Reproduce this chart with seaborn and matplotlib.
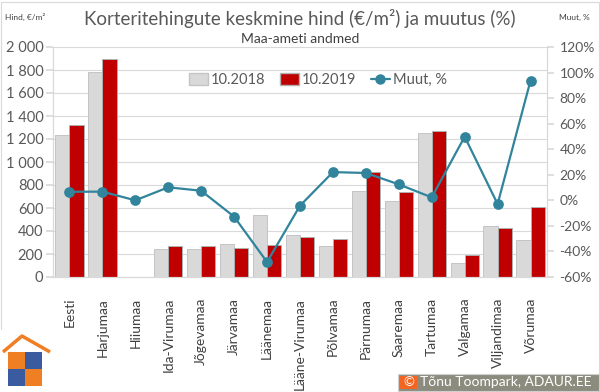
import matplotlib
matplotlib.use("Agg")
import matplotlib.pyplot as plt
import matplotlib.patches as mpatches
from matplotlib.lines import Line2D
import seaborn as sns
import pandas as pd
from matplotlib.ticker import FuncFormatter, MultipleLocator

categories = ["Eesti", "Harjumaa", "Hiiumaa", "Ida-Virumaa", "Jõgevamaa", "Järvamaa",
              "Läänemaa", "Lääne-Virumaa", "Põlvamaa", "Pärnumaa", "Saaremaa",
              "Tartumaa", "Valgamaa", "Viljandimaa", "Võrumaa"]
price_2018 = [1235, 1780, 0, 243, 243, 284, 539, 368, 270, 748, 661, 1252, 122, 443, 322]
price_2019 = [1324, 1898, 0, 267, 267, 249, 275, 350, 328, 909, 742, 1267, 189, 429, 611]
change_pct = [6.7, 6.8, 0.0, 10.2, 7.5, -12.8, -48.3, -4.2, 22.1, 21.4, 12.5, 2.3, 49.8, -2.9, 93.7]
series_names = ["10.2018", "10.2019"]
line_name = "Muut, %"

GRAY = "#D9D9D9"
RED = "#C00000"
TEAL = "#31849B"
TXT = "#595959"
GRID = "#D9D9D9"

sns.set_theme(style="white")
plt.rcParams["font.family"] = ["Lato", "DejaVu Sans"]

long = pd.DataFrame({
    "cat": categories * 2,
    "val": price_2018 + price_2019,
    "year": [series_names[0]] * len(categories) + [series_names[1]] * len(categories),
})
line_df = pd.DataFrame({"cat": categories, "pct": change_pct})

fig = plt.figure(figsize=(6, 3.92), dpi=100)
ax = fig.add_axes([53 / 600, 1 - 277 / 392, 494 / 600, 230 / 392])

sns.barplot(data=long, x="cat", y="val", hue="year", order=categories,
            palette=[GRAY, RED], saturation=1, width=0.86, gap=0, ax=ax, legend=False,
            linewidth=0.7)
for p in ax.patches:
    fc = p.get_facecolor()
    if fc[0] > 0.8 and fc[1] > 0.8:
        p.set_edgecolor("#C4C4C4")
    else:
        p.set_edgecolor("#B0B0B0")

ax.set_ylim(0, 2000)
ax.yaxis.set_major_locator(MultipleLocator(200))
ax.yaxis.set_major_formatter(FuncFormatter(lambda v, _: f"{int(v):,}".replace(",", " ")))
ax.set_xlim(-0.5, len(categories) - 0.5)
ax.grid(axis="y", color=GRID, linewidth=0.8)
ax.set_axisbelow(True)
ax.set_xlabel("")
ax.set_ylabel("")
ax.spines["top"].set_visible(False)
for s in ["left", "right", "bottom"]:
    ax.spines[s].set_color(GRID)
    ax.spines[s].set_linewidth(0.8)
ax.tick_params(axis="y", which="both", left=True, length=5, color=GRID,
               labelsize=10.5, labelcolor=TXT, pad=2)
ax.tick_params(axis="x", bottom=False, labelsize=10, labelcolor="#404040", pad=9)
plt.setp(ax.get_xticklabels(), rotation=90, va="top", ha="center")

ax2 = ax.twinx()
sns.pointplot(data=line_df, x="cat", y="pct", order=categories, color=TEAL,
              markers="o", linestyles="-", markersize=6.5, linewidth=1.6,
              ax=ax2, errorbar=None)
ax2.set_ylim(-60, 120)
ax2.yaxis.set_major_locator(MultipleLocator(20))
ax2.yaxis.set_major_formatter(FuncFormatter(lambda v, _: f"{int(round(v))}%"))
ax2.set_xlim(-0.5, len(categories) - 0.5)
ax2.set_ylabel("")
ax2.set_xlabel("")
ax2.spines["top"].set_visible(False)
for s in ["left", "right", "bottom"]:
    ax2.spines[s].set_color(GRID)
    ax2.spines[s].set_linewidth(0.8)
ax2.tick_params(axis="y", right=True, length=5, color=GRID,
                labelsize=10, labelcolor=TXT, pad=4)
ax2.tick_params(axis="x", bottom=False, labelbottom=False)

handles = [mpatches.Patch(facecolor=GRAY, edgecolor="#C4C4C4", label=series_names[0]),
           mpatches.Patch(facecolor=RED, edgecolor="#B0B0B0", label=series_names[1]),
           Line2D([0], [0], color=TEAL, marker="o", markersize=6.5, linewidth=1.6, label=line_name)]
ax2.legend(handles=handles, loc="center", bbox_to_anchor=((318 - 53) / 494, (277 - 80) / 230),
           ncol=3, frameon=False, fontsize=10.5, handlelength=1.3, handleheight=0.8,
           handletextpad=0.2, columnspacing=1.0, labelcolor=TXT)

fig.text(0.5, 1 - 19 / 392, "Korteritehingute keskmine hind (€/m²) ja muutus (%)",
         ha="center", va="center", fontsize=13.5, color=TXT)
fig.text(0.5, 1 - 39 / 392, "Maa-ameti andmed", ha="center", va="center",
         fontsize=10, color="#404040")
fig.text(5 / 600, 1 - 17 / 392, "Hind, €/m²", ha="left", va="center", fontsize=6, color="#404040")
fig.text(590 / 600, 1 - 17 / 392, "Muut, %", ha="right", va="center", fontsize=6, color="#404040")

# figure border
fig.add_artist(mpatches.Rectangle((0.5 / 600, 0.5 / 392), 598 / 600, 390 / 392,
                                  transform=fig.transFigure, fill=False,
                                  edgecolor="#D9D9D9", linewidth=0.8))

# logo
def px(x, y):
    return (x / 600, 1 - y / 392)

fig.add_artist(mpatches.Rectangle(px(0, 392), 48 / 600, 62 / 392, transform=fig.transFigure,
                                  facecolor="white", edgecolor="none"))
fig.add_artist(Line2D([px(3, 352)[0], px(22, 336)[0], px(50, 352)[0]],
                      [px(3, 352)[1], px(22, 336)[1], px(50, 352)[1]],
                      transform=fig.transFigure, color="#F07F24", linewidth=2.5,
                      solid_capstyle="butt"))
sq = 17
for (cx, cy, col) in [(8, 352, "#F07F24"), (25, 352, "#3A5BA0"),
                      (8, 369, "#3A5BA0"), (25, 369, "#F07F24")]:
    fig.add_artist(mpatches.Rectangle(px(cx, cy + sq), sq / 600, sq / 392,
                                      transform=fig.transFigure, facecolor=col,
                                      edgecolor="none"))

# copyright box
fig.add_artist(mpatches.Rectangle(px(398, 391), 201 / 600, 17 / 392, transform=fig.transFigure,
                                  facecolor="#8C8C7E", edgecolor="#D0D0D0", linewidth=0.8))
fig.add_artist(mpatches.Rectangle(px(400, 389), 17 / 600, 13 / 392, transform=fig.transFigure,
                                  facecolor="#F26522", edgecolor="none"))
fig.text(408.5 / 600, 1 - 382.5 / 392, "©", ha="center", va="center", fontsize=9.5, color="white")
fig.text(420 / 600, 1 - 382.5 / 392, "Tõnu Toompark, ADAUR.EE", ha="left", va="center",
         fontsize=10, color="white")

fig.savefig("out.png", dpi=100)
